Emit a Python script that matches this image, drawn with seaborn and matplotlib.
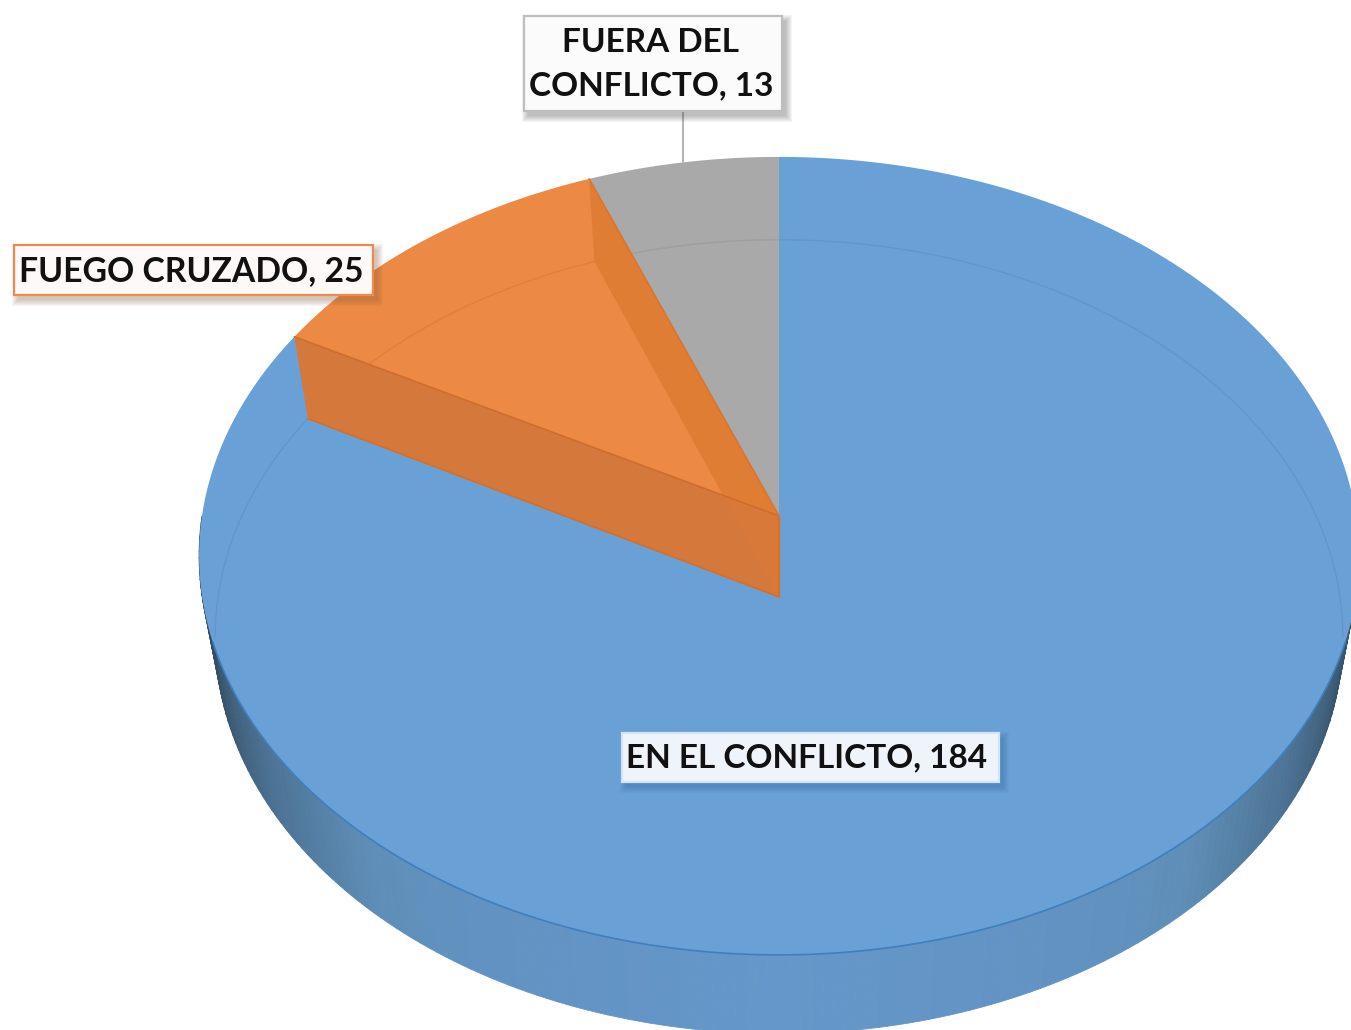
import numpy as np
import matplotlib
matplotlib.use("Agg")
import matplotlib.pyplot as plt
from matplotlib.collections import PolyCollection
from matplotlib.patches import Polygon, Rectangle
import seaborn as sns

# Data
categories = ["EN EL CONFLICTO", "FUEGO CRUZADO", "FUERA DEL\nCONFLICTO"]
values = [184, 25, 13]

# Colours
blue = "#69A1D7"
orange = "#EC8A45"
gray = "#A9A9A9"
rim_stops = ["#2F4357", "#3A566F", "#4F7699", "#5F8FB8", "#6292C2", "#6597CA"]
rim_steps = [18, 17, 15, 12, 28]

sns.set_theme(style="white")
plt.rcParams["font.family"] = ["Lato", "DejaVu Sans"]

W, H = 1351, 1030
fig, ax = plt.subplots(figsize=(W / 100, H / 100), dpi=100)
ax.set_position([0, 0, 1, 1])
ax.set_xlim(0, W)
ax.set_ylim(H, 0)
ax.axis("off")

# Perspective of the two pie surfaces
TILT = 0.1
CX = 779
TOP = (516, 577, 395)
BOTTOM = (597, 561, 393)


def project(theta, surface):
    cy, rx, ry = surface
    w = 1 + TILT * np.cos(theta)
    return np.column_stack([CX + rx * np.sin(theta) / w, cy - ry * np.cos(theta) / w])


def arc(start, end, surface, n=240):
    return project(np.linspace(start, end, n), surface)


def apex(surface):
    return np.array([[CX, surface[0]]])


# Slice angles, clockwise from the top
edges = np.cumsum([0] + values) / sum(values) * 2 * np.pi
blue_end, orange_end = edges[1], edges[2]

# Blue rim with shading towards the sides
ramp = []
for i, steps in enumerate(rim_steps):
    ramp += sns.blend_palette(rim_stops[i:i + 2], steps)
shade = ramp + ramp[::-1]
rim = np.linspace(np.pi / 2, 3 * np.pi / 2, len(shade) + 1)
upper, lower = project(rim, TOP), project(rim, BOTTOM)
quads = [[upper[i], upper[i + 1], lower[i + 1], lower[i]] for i in range(len(shade))]
ax.add_collection(PolyCollection(quads, facecolors=shade, edgecolors=shade, linewidths=0.6))

# Top faces
blue_face = np.vstack([apex(TOP), arc(0, blue_end, TOP, 800)])
ax.add_patch(Polygon(blue_face, fc=blue, ec="none", zorder=2))
ax.add_patch(Polygon(np.vstack([apex(TOP), arc(orange_end, 2 * np.pi, TOP)]), fc=gray, ec="none", zorder=2))
ax.add_patch(Polygon(np.vstack([apex(TOP), arc(blue_end, orange_end, TOP)]), fc=orange, ec="none", zorder=2))

# Front edge of the top face
front = arc(np.radians(108), np.radians(252), TOP, 400)
ax.plot(front[:, 0], front[:, 1], color="#3F7FBE", lw=1.2, zorder=3)

# Faint far edge seen through the pie
ax.plot(*arc(0, np.pi / 2 + 0.1, BOTTOM).T, color="#5E96CE", lw=1, zorder=3)
ax.plot(*arc(3 * np.pi / 2 - 0.1, blue_end, BOTTOM).T, color="#5E96CE", lw=1, zorder=3)
ax.plot(*arc(orange_end, 2 * np.pi, BOTTOM).T, color="#9E9E9E", lw=1, zorder=3)
ax.plot(*arc(blue_end, orange_end, BOTTOM).T, color="#E27F3A", lw=1, zorder=3)

# Walls of the orange slice
wall_back = np.vstack([project(np.array([orange_end]), TOP), project(np.array([orange_end]), BOTTOM), apex(BOTTOM), apex(TOP)])
wall_front = np.vstack([project(np.array([blue_end]), TOP), project(np.array([blue_end]), BOTTOM), apex(BOTTOM), apex(TOP)])
ax.add_patch(Polygon(wall_back, fc="#E07D35", ec="none", zorder=4))
ax.add_patch(Polygon(wall_front, fc="#D5783B", ec="none", zorder=5))
ax.add_patch(Polygon(wall_back, fc="#E07D35", ec="none", alpha=0.3, zorder=5.5))
ax.plot(*wall_front[[0, 3]].T, color="#CF6E2C", lw=1.2, zorder=6)
ax.plot(*wall_front[[1, 2]].T, color="#D56F2A", lw=1.2, zorder=6)
ax.plot(*wall_front[[2, 3]].T, color="#DF6F20", lw=1.6, zorder=6)
ax.plot(*wall_back[[0, 3]].T, color="#D9752F", lw=1.2, zorder=6)

# Labels
labels = [f"{c}, {v}" for c, v in zip(categories, values)]


def label_box(text, box, face, edge, text_x, text_y, shadow, size=24):
    x0, y0, x1, y1 = box
    for grow in [6, 5, 4, 3, 2, 1, 0]:
        ax.add_patch(Rectangle((x0 + 4 - grow, y0 + 5 - grow), x1 - x0 + 2 * grow, y1 - y0 + 2 * grow,
                               fc=shadow, ec="none", alpha=0.055, zorder=7))
    ax.add_patch(Rectangle((x0, y0), x1 - x0, y1 - y0, fc=face, ec=edge, lw=1.6, zorder=8))
    for line, y in zip(text.split("\n"), text_y):
        ax.text(text_x, y, line, ha="center", va="center", fontsize=size, fontweight="bold",
                color="#111111", zorder=9)


ax.plot([683, 683], [111, 162], color="#B5B5B5", lw=1.5, zorder=1)
label_box(labels[2], (524, 16, 782, 111), "#FBFBFB", "#BEBEBE", 651, [43, 86], "#444444")
label_box(labels[1], (14, 245, 373, 295), "#FDF9F6", "#EE8A4D", 191, [271], "#8A5A3A", size=24.3)
label_box(labels[0], (622, 733, 999, 782), "#EFF4FB", "#D5E4F3", 807, [758], "#2F5F96")

fig.savefig("out.png", dpi=100)
plt.close(fig)
